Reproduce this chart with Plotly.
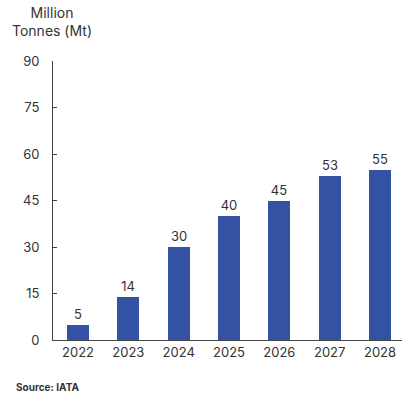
import plotly.graph_objects as go

years = ["2022", "2023", "2024", "2025", "2026", "2027", "2028"]
values = [5, 14, 30, 40, 45, 53, 55]
y_ticks = [0, 15, 30, 45, 60, 75, 90]

bar_color = "#3452A4"
text_color = "#333333"
font_family = "Inter, Roboto, sans-serif"

x_idx = list(range(len(years)))

fig = go.Figure(
    go.Bar(
        x=x_idx,
        y=values,
        width=0.44,
        marker=dict(color=bar_color, line=dict(width=0)),
        text=[str(v) for v in values],
        textposition="outside",
        textfont=dict(size=13, color=text_color, family=font_family),
        cliponaxis=False,
    )
)

fig.update_layout(
    width=403,
    height=395,
    margin=dict(l=53, r=1, t=61, b=55),
    paper_bgcolor="white",
    plot_bgcolor="white",
    showlegend=False,
    bargap=0,
    font=dict(family=font_family, size=13, color=text_color),
    xaxis=dict(
        tickmode="array",
        tickvals=x_idx,
        ticktext=years,
        range=[-0.497, 6.437],
        showgrid=False,
        zeroline=False,
        showline=True,
        linecolor="#444444",
        linewidth=1,
        ticks="",
        tickfont=dict(size=13, color=text_color),
    ),
    yaxis=dict(
        tickmode="array",
        tickvals=y_ticks,
        range=[0, 90],
        showgrid=False,
        zeroline=False,
        showline=True,
        linecolor="#444444",
        linewidth=1,
        ticks="inside",
        ticklen=4,
        tickcolor="#444444",
        ticklabelstandoff=10,
        tickfont=dict(size=13, color=text_color),
    ),
    annotations=[
        # axis unit label, two lines above the y axis
        dict(
            text="Million<br>Tonnes (Mt)",
            xref="paper", yref="paper",
            x=0, xshift=-1, y=1.0, yshift=20,
            xanchor="center", yanchor="bottom",
            showarrow=False, align="center",
            font=dict(size=14, color=text_color),
        ),
        # source note under the axis labels
        dict(
            text="<b>Source: IATA</b>",
            xref="paper", yref="paper",
            x=0, xshift=-39, y=0, yshift=-47,
            xanchor="left", yanchor="middle",
            showarrow=False,
            font=dict(size=10, color=text_color),
        ),
    ],
)

fig.write_html("out.html")
